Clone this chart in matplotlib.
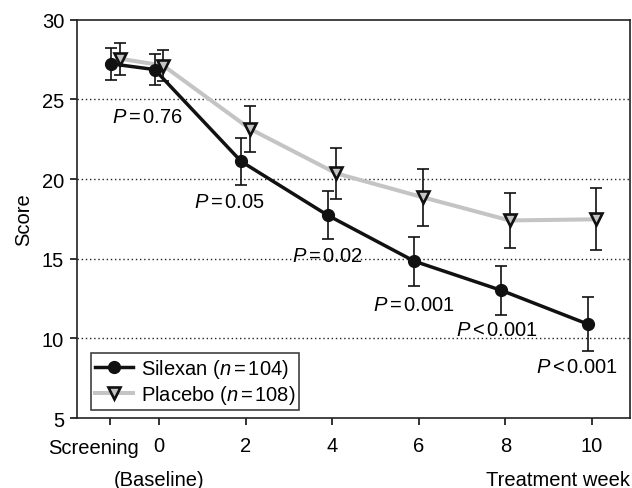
import matplotlib.pyplot as plt
import matplotlib.transforms as mtransforms
import numpy as np

plt.rcParams['font.family'] = ['Liberation Sans', 'DejaVu Sans']
plt.rcParams['mathtext.fontset'] = 'custom'
plt.rcParams['mathtext.it'] = 'Liberation Sans:italic'
plt.rcParams['mathtext.rm'] = 'Liberation Sans'

FS = 14.5

# visit positions (screening plotted at -1)
weeks = np.array([-1, 0, 2, 4, 6, 8, 10])
silexan_mean = np.array([27.23, 26.87, 21.1, 17.72, 14.84, 13.02, 10.9])
silexan_err = np.array([1.0, 1.0, 1.45, 1.5, 1.55, 1.53, 1.68])
placebo_mean = np.array([27.55, 27.12, 23.15, 20.35, 18.85, 17.4, 17.47])
placebo_err = np.array([1.0, 0.98, 1.45, 1.6, 1.8, 1.75, 1.95])

p_labels = [r'$P\,$=$\,$0.76', r'$P\,$=$\,$0.05', r'$P\,$=$\,$0.02',
            r'$P\,$=$\,$0.001', r'$P\,$<$\,$0.001', r'$P\,$<$\,$0.001']
p_x = [-0.26, 1.64, 3.9, 5.89, 7.82, 9.65]
p_y = [23.95, 18.56, 15.17, 12.15, 10.58, 8.26]

tick_pos = [-1.13, 0, 2, 4, 6, 8, 10]
tick_lab = ['', '0', '2', '4', '6', '8', '10']

fig = plt.figure(figsize=(6.32, 4.89), dpi=100)
ax = fig.add_axes([0.1214, 0.1431, 0.8754, 0.8146])

off = 0.1
ax.plot(weeks + off, placebo_mean, '-', color='#c4c4c4', lw=2.9, zorder=2)
ax.plot(weeks - off, silexan_mean, '-', color='#111111', lw=2.5, zorder=3)
ax.errorbar(weeks + off, placebo_mean, yerr=placebo_err, fmt='none', ecolor='#111111',
            elinewidth=1.2, capsize=4.6, capthick=1.2, zorder=4)
ax.errorbar(weeks - off, silexan_mean, yerr=silexan_err, fmt='none', ecolor='#111111',
            elinewidth=1.2, capsize=4.6, capthick=1.2, zorder=4)
ax.plot(weeks + off, placebo_mean, 'v', ms=9, mfc='#c4c4c4', mec='#111111', mew=1.9, zorder=5)
ax.plot(weeks - off, silexan_mean, 'o', ms=8.5, color='#111111', zorder=5)

for lab, x, y in zip(p_labels, p_x, p_y):
    ax.text(x, y, lab, fontsize=FS, ha='center', va='center', zorder=6)

# legend proxies
h1, = ax.plot([], [], '-o', color='#111111', lw=2.5, ms=8.5)
h2, = ax.plot([], [], '-v', color='#c4c4c4', lw=2.9, ms=9, mfc='#c4c4c4', mec='#111111', mew=1.9)
leg = ax.legend([h1, h2], [r'Silexan ($n\,$=$\,$104)', r'Placebo ($n\,$=$\,$108)'], loc='lower left',
                bbox_to_anchor=(0.025, 0.02), fontsize=FS, frameon=True, fancybox=False,
                handlelength=1.9, handletextpad=0.4, borderpad=0.2, labelspacing=0.15,
                borderaxespad=0)
leg.get_frame().set_edgecolor('#111111')
leg.get_frame().set_linewidth(1.2)

ax.set_xlim(-1.9, 10.88)
ax.set_ylim(5, 30)
ax.set_yticks([5, 10, 15, 20, 25, 30])
ax.set_xticks(tick_pos)
ax.set_xticklabels(tick_lab)
for y in [10, 15, 20, 25]:
    ax.axhline(y, color='#222222', lw=1.0, ls=(0, (1, 2)), zorder=1)

ax.tick_params(axis='both', labelsize=FS, length=5, width=1.2, color='#111111', pad=8)
ax.tick_params(axis='y', pad=4)
for s in ax.spines.values():
    s.set_linewidth(1.2)
    s.set_color('#222222')
ax.set_ylabel('Score', fontsize=FS, labelpad=6)

trans = mtransforms.blended_transform_factory(ax.transData, fig.transFigure)
ax.text(-1.51, 0.082, 'Screening', transform=trans, fontsize=FS, ha='center', va='center')
ax.text(0, 0.018, '(Baseline)', transform=trans, fontsize=FS, ha='center', va='center')
fig.text(0.997, 0.018, 'Treatment week', fontsize=FS, ha='right', va='center')

fig.savefig('out.png', dpi=100)
